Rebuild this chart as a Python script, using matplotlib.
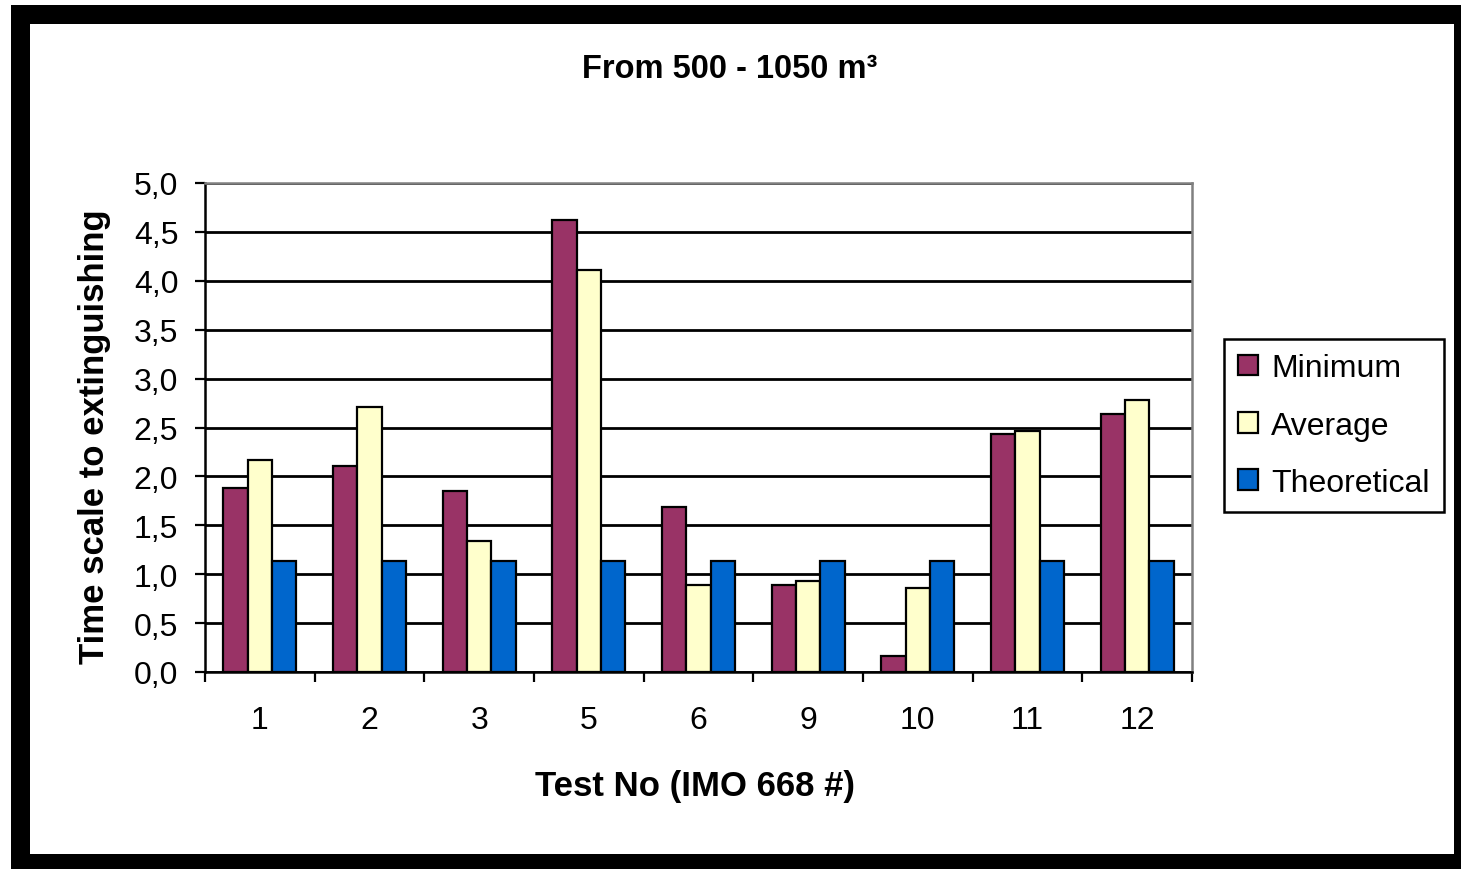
import matplotlib.pyplot as plt
import numpy as np
from matplotlib.patches import Rectangle

plt.rcParams['font.family'] = ['Liberation Sans', 'DejaVu Sans']

# data
tests = ['1', '2', '3', '5', '6', '9', '10', '11', '12']
minimum = [1.88, 2.11, 1.85, 4.62, 1.69, 0.89, 0.16, 2.43, 2.64]
average = [2.17, 2.71, 1.34, 4.11, 0.89, 0.93, 0.86, 2.46, 2.78]
theoretical = [1.14, 1.14, 1.14, 1.14, 1.14, 1.14, 1.14, 1.14, 1.14]
y_ticks = [0.0, 0.5, 1.0, 1.5, 2.0, 2.5, 3.0, 3.5, 4.0, 4.5, 5.0]
y_tick_labels = ['0,0', '0,5', '1,0', '1,5', '2,0', '2,5', '3,0', '3,5', '4,0', '4,5', '5,0']

W, H = 1461, 870
fig = plt.figure(figsize=(W / 100, H / 100), dpi=100)
fig.patch.set_facecolor('white')

# black frame round the chart area
fig.add_artist(Rectangle((11 / W, 0), (W - 11) / W, (H - 6) / H,
                         transform=fig.transFigure, facecolor='black',
                         edgecolor='none', zorder=-3))
fig.add_artist(Rectangle((30 / W, 15 / H), (1454 - 30) / W, (855 - 25) / H,
                         transform=fig.transFigure, facecolor='white',
                         edgecolor='none', zorder=-2))

ax = fig.add_axes([205 / W, 1 - 673 / H, (1192 - 205) / W, (673 - 184) / H])

x = np.arange(len(tests))
bw = 0.222
edge = dict(edgecolor='black', linewidth=1.6)
ax.bar(x - bw, minimum, bw, color='#993366', label='Minimum', **edge)
ax.bar(x, average, bw, color='#FFFFCC', label='Average', **edge)
ax.bar(x + bw, theoretical, bw, color='#0066CC', label='Theoretical', **edge)

ax.set_xlim(-0.5, len(tests) - 0.5)
ax.set_ylim(0, 5)
ax.set_yticks(y_ticks)
ax.set_yticklabels(y_tick_labels)
ax.set_xticks(x)
ax.set_xticklabels(tests)
ax.set_xticks(np.arange(-0.5, len(tests)), minor=True)

ax.tick_params(axis='y', direction='out', length=7.2, width=1.6,
               labelsize=23, pad=12, color='black')
ax.tick_params(axis='x', which='major', length=0, labelsize=23, pad=24)
ax.tick_params(axis='x', which='minor', direction='out', length=7.2, width=1.6)

ax.grid(axis='y', color='black', linewidth=2.0)
ax.set_axisbelow(True)

for s in ['left', 'bottom']:
    ax.spines[s].set_color('black')
    ax.spines[s].set_linewidth(1.8)
for s in ['top', 'right']:
    ax.spines[s].set_color('#808080')
    ax.spines[s].set_linewidth(1.8)

ax.set_xlabel('Test No (IMO 668 #)', fontsize=25, fontweight='bold')
ax.xaxis.label.set_va('center')
ax.xaxis.set_label_coords((695 - 205) / 987, (673 - 787) / 489)
ax.set_ylabel('Time scale to extinguishing', fontsize=25, fontweight='bold')
ax.yaxis.label.set_va('center')
ax.yaxis.set_label_coords((95 - 205) / 987, (673 - 437) / 489)

fig.text(730 / W, 1 - 70 / H, 'From 500 - 1050 m³', fontsize=23.5,
         fontweight='bold', ha='center', va='center')

leg = ax.legend(loc='upper left', bbox_to_anchor=(1224 / W, 1 - 340 / H),
                bbox_transform=fig.transFigure, borderaxespad=0,
                fontsize=23, handlelength=0.62, handleheight=0.62,
                handletextpad=0.4, labelspacing=0.85, borderpad=0.45,
                fancybox=False, framealpha=1)
leg.get_frame().set_edgecolor('black')
leg.get_frame().set_linewidth(1.8)

fig.savefig('out.png', dpi=100)
